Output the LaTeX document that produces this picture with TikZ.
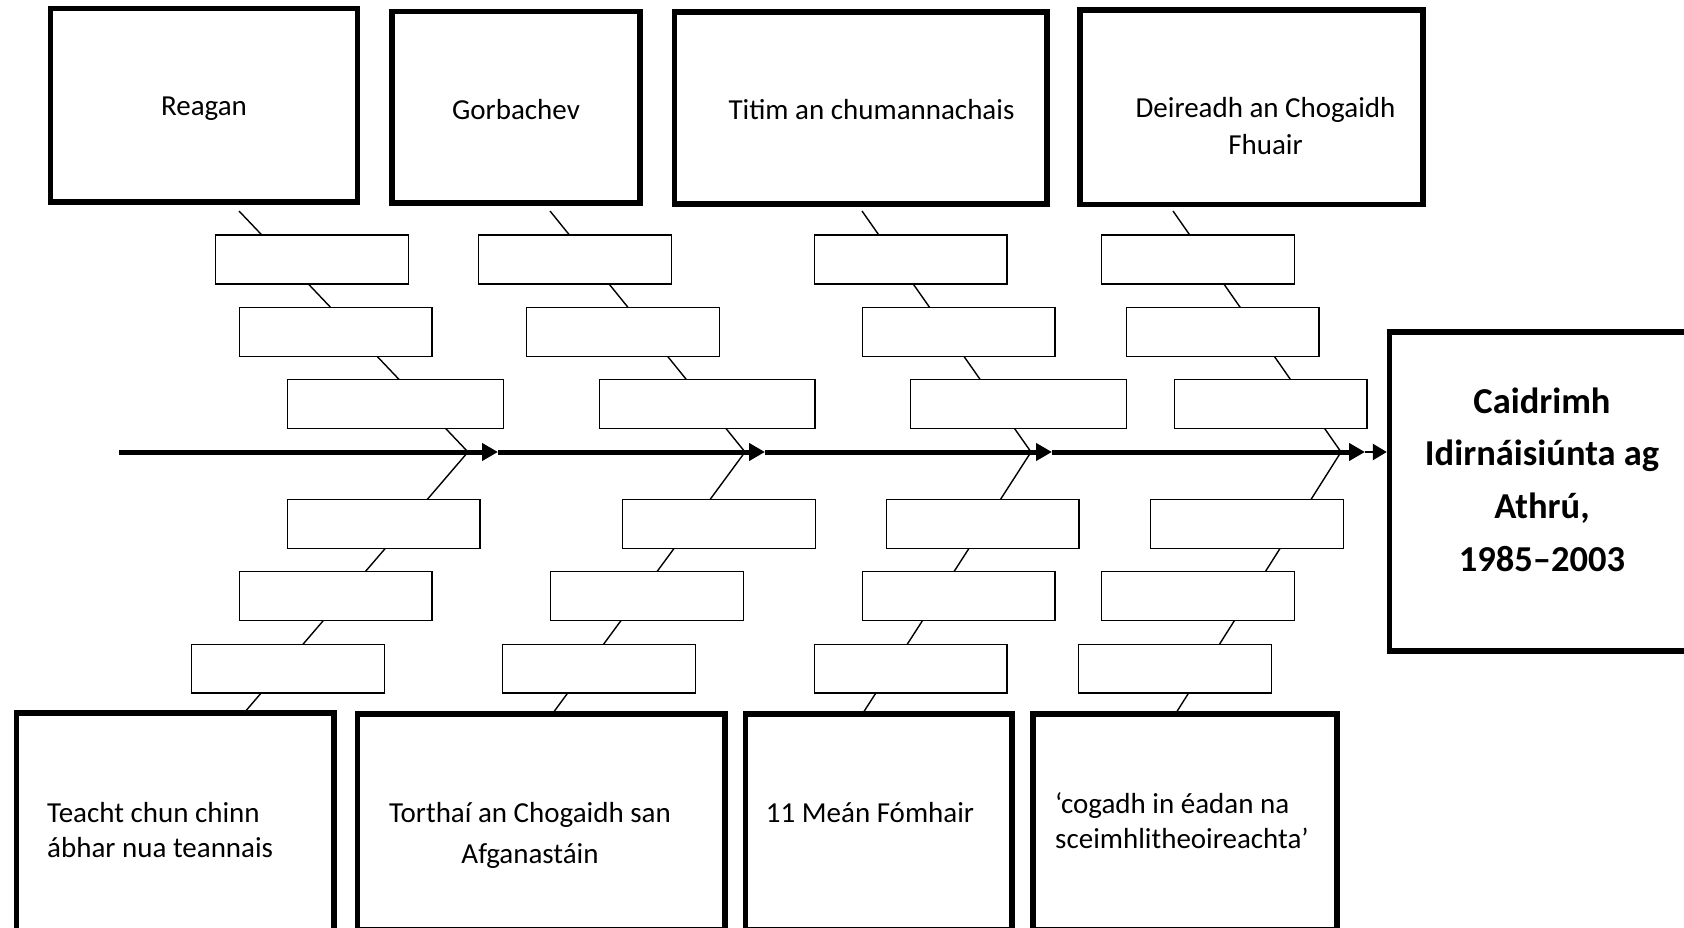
\documentclass[tikz,border=0pt]{standalone}
\usepackage{fontspec}
\setmainfont{Carlito}
\usetikzlibrary{arrows.meta}
\begin{document}
\begin{tikzpicture}[x=1pt,y=-1pt,
  bigbox/.style={draw, line width=5.5pt, inner sep=0pt},
  smallbox/.style={draw, fill=white, line width=1.3pt, minimum width=192.7pt, minimum height=48.7pt, inner sep=0pt},
  widebox/.style={smallbox, minimum width=215.7pt},
  bone/.style={line width=1.4pt},
  spine/.style={line width=5pt, -{Triangle[length=16pt,width=17pt]}},
  lbl/.style={font=\fontsize{29}{36}\selectfont, inner sep=0pt},
  headlbl/.style={font=\fontsize{36.5}{52.7}\selectfont\bfseries, inner sep=0pt}]
\useasboundingbox (0,0) rectangle (1684,928);
\clip (0,0) rectangle (1684,928);

% ---- big boxes (top) ----
\node[bigbox, minimum width=307pt, minimum height=193.5pt] (reagan) at (204,105.25) {};
\node[bigbox, minimum width=248pt, minimum height=191.5pt] (gorb) at (516,107.25) {};
\node[bigbox, minimum width=372.5pt, minimum height=192pt] (titim) at (860.75,108) {};
\node[bigbox, minimum width=343pt, minimum height=194.5pt] (deir) at (1251.5,107.25) {};

% ---- big boxes (bottom) ----
\node[bigbox, minimum width=317.3pt, minimum height=222pt] (teacht) at (175.35,824) {};
\node[bigbox, minimum width=367.3pt, minimum height=215.5pt] (torth) at (541.35,821.75) {};
\node[bigbox, minimum width=266.5pt, minimum height=215.5pt] (sept) at (878.75,821.75) {};
\node[bigbox, minimum width=304pt, minimum height=215.5pt] (cogadh) at (1185,821.75) {};

% ---- head box ----
\node[bigbox, minimum width=320pt, minimum height=319pt] (head) at (1549.5,491.5) {};

% ---- spine points ----
\coordinate (s0) at (119,452);
\coordinate (m1) at (468,452);
\coordinate (m2) at (745,452);
\coordinate (m3) at (1031,452);
\coordinate (m4) at (1341,452);
\coordinate (a1) at (498,452);
\coordinate (a2) at (765,452);
\coordinate (a3) at (1052,452);
\coordinate (a4) at (1365,452);

% ---- bones ----
\coordinate (t1) at (239,211);  \coordinate (b1) at (244,713);
\coordinate (t2) at (550,211);  \coordinate (b2) at (553,713);
\coordinate (t3) at (862,211);  \coordinate (b3) at (863,713);
\coordinate (t4) at (1173,211); \coordinate (b4) at (1176,713);
\draw[bone] (t1) -- (m1); \draw[bone] (m1) -- (b1);
\draw[bone] (t2) -- (m2); \draw[bone] (m2) -- (b2);
\draw[bone] (t3) -- (m3); \draw[bone] (m3) -- (b3);
\draw[bone] (t4) -- (m4); \draw[bone] (m4) -- (b4);

% ---- spine ----
\draw[spine] (s0) -- (a1);
\draw[spine] (a1) -- (a2);
\draw[spine] (a2) -- (a3);
\draw[spine] (a3) -- (a4);
\draw[line width=2.5pt, -{Triangle[length=14pt,width=16pt]}] (a4) -- (a4 -| head.west);

% ---- small boxes, top ----
\node[smallbox] (A1) at (312,259.5) {};
\node[smallbox] (A2) at (335.5,332) {};
\node[widebox]  (A3) at (395.5,404) {};
\node[smallbox] (C1) at (575,259.5) {};
\node[smallbox] (C2) at (623,332) {};
\node[widebox]  (C3) at (707,404) {};
\node[smallbox] (E1) at (910.5,259.5) {};
\node[smallbox] (E2) at (958.5,332) {};
\node[widebox]  (E3) at (1018.5,404) {};
\node[smallbox] (G1) at (1198,259.5) {};
\node[smallbox] (G2) at (1222.5,332) {};
\node[smallbox] (G3) at (1270.5,404) {};

% ---- small boxes, bottom ----
\node[smallbox] (B1) at (383.5,524) {};
\node[smallbox] (B2) at (335.5,596) {};
\node[smallbox] (B3) at (288,668.5) {};
\node[smallbox] (D1) at (719,524) {};
\node[smallbox] (D2) at (647,596) {};
\node[smallbox] (D3) at (599,668.5) {};
\node[smallbox] (F1) at (982.5,524) {};
\node[smallbox] (F2) at (958.5,596) {};
\node[smallbox] (F3) at (910.5,668.5) {};
\node[smallbox] (H1) at (1247,524) {};
\node[smallbox] (H2) at (1198,596) {};
\node[smallbox] (H3) at (1175,668.5) {};

% ---- texts ----
\node[lbl, anchor=base] (treagan) at (204,116) {Reagan};
\node[lbl, anchor=base] (tgorb) at (516,120) {Gorbachev};
\node[lbl, anchor=base] (ttitim) at (871.5,120) {Titim an chumannachais};
\node[lbl, anchor=base] (tdeir) at (1265.5,117.5) {\begin{tabular}[t]{@{}c@{}}Deireadh an Chogaidh\\[1pt]Fhuair\end{tabular}};

\node[lbl, anchor=base west] (tteacht) at (47,822) {\begin{tabular}[t]{@{}l@{}}Teacht chun chinn\\[-1pt]ábhar nua teannais\end{tabular}};
\node[lbl, anchor=base] (ttorth) at (530,822) {\begin{tabular}[t]{@{}c@{}}Torthaí an Chogaidh san\\[5pt]Afganastáin\end{tabular}};
\node[lbl, anchor=base] (tsept) at (870,822) {11 Meán Fómhair};
\node[lbl, anchor=base west] (tcogadh) at (1055,813) {\begin{tabular}[t]{@{}l@{}}‘cogadh in éadan na\\[-1pt]sceimhlitheoireachta’\end{tabular}};

\node[headlbl, anchor=base] (thead) at (1542,413) {\begin{tabular}[t]{@{}c@{}}Caidrimh\\Idirnáisiúnta ag\\Athrú,\\1985–2003\end{tabular}};
\end{tikzpicture}
\end{document}
